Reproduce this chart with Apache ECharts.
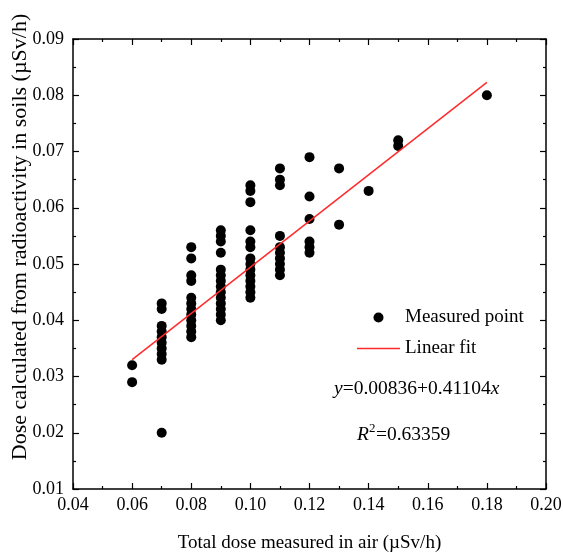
<!DOCTYPE html>
<html>
<head>
<meta charset="utf-8">
<script src="https://cdn.jsdelivr.net/npm/echarts@6/dist/echarts.min.js"></script>
<style>html,body{margin:0;padding:0;background:#fff}#c{width:563px;height:559px}</style>
</head>
<body>
<div id="c"></div>
<script>
// Measured points: total dose in air (x) and dose from soil radioactivity (y), µSv/h
const airDose = [
  0.06, 0.06,
  0.07, 0.07, 0.07, 0.07, 0.07, 0.07, 0.07, 0.07, 0.07, 0.07,
  0.08, 0.08, 0.08, 0.08, 0.08, 0.08, 0.08, 0.08, 0.08, 0.08, 0.08, 0.08,
  0.09, 0.09, 0.09, 0.09, 0.09, 0.09, 0.09, 0.09, 0.09, 0.09, 0.09, 0.09, 0.09, 0.09,
  0.10, 0.10, 0.10, 0.10, 0.10, 0.10, 0.10, 0.10, 0.10, 0.10, 0.10, 0.10, 0.10, 0.10,
  0.11, 0.11, 0.11, 0.11, 0.11, 0.11, 0.11, 0.11, 0.11, 0.11,
  0.12, 0.12, 0.12, 0.12, 0.12, 0.12,
  0.13, 0.13,
  0.14,
  0.15, 0.15,
  0.18
];
const soilDose = [
  0.032, 0.029,
  0.043, 0.042, 0.039, 0.038, 0.037, 0.036, 0.035, 0.034, 0.033, 0.020,
  0.053, 0.051, 0.048, 0.047, 0.044, 0.043, 0.042, 0.041, 0.040, 0.039, 0.038, 0.037,
  0.056, 0.055, 0.054, 0.052, 0.049, 0.048, 0.047, 0.046, 0.045, 0.044, 0.043, 0.042, 0.041, 0.040,
  0.064, 0.063, 0.061, 0.056, 0.054, 0.053, 0.051, 0.050, 0.049, 0.048, 0.047, 0.046, 0.045, 0.044,
  0.067, 0.065, 0.064, 0.055, 0.053, 0.052, 0.051, 0.050, 0.049, 0.048,
  0.069, 0.062, 0.058, 0.054, 0.053, 0.052,
  0.067, 0.057,
  0.063,
  0.072, 0.071,
  0.080
];
// Linear fit endpoints as drawn
const fitX = [0.06, 0.18];
const fitY = [0.0330, 0.0823];
// Axis ranges / ticks
const xMin = 0.04, xMax = 0.20, xStep = 0.02;
const yMin = 0.01, yMax = 0.09, yStep = 0.01;
const xName = 'Total dose measured in air (µSv/h)';
const yName = 'Dose calculated from radioactivity in soils (µSv/h)';
const seriesNames = ['Measured point', 'Linear fit'];

const FONT = "'Liberation Serif', 'Times New Roman', serif";
const chart = echarts.init(document.getElementById('c'));

const axisCommon = {
  axisLine: { show: true, onZero: false, lineStyle: { color: '#000', width: 1.5 } },
  axisTick: { show: true, inside: true, length: 6, lineStyle: { color: '#000', width: 1.2 } },
  minorTick: { show: true, splitNumber: 2, length: 3, lineStyle: { color: '#000', width: 1.2 } },
  splitLine: { show: false }
};

chart.setOption({
  animation: false,
  backgroundColor: '#fff',
  grid: { left: 73, right: 17, top: 39, bottom: 70, containLabel: false, outerBoundsMode: 'none' },
  xAxis: [
    Object.assign({}, axisCommon, {
      type: 'value', min: xMin, max: xMax, interval: xStep, position: 'bottom',
      axisLabel: { color: '#000', fontFamily: FONT, fontSize: 18, margin: 7,
        formatter: v => v.toFixed(2) },
      name: xName, nameLocation: 'middle', nameGap: 45, nameMoveOverlap: false,
      nameTextStyle: { color: '#000', fontFamily: FONT, fontSize: 19 }
    }),
    Object.assign({}, axisCommon, {
      type: 'value', min: xMin, max: xMax, interval: xStep, position: 'top',
      axisLabel: { show: false }
    })
  ],
  yAxis: [
    Object.assign({}, axisCommon, {
      type: 'value', min: yMin, max: yMax, interval: yStep, position: 'left',
      axisLabel: { color: '#000', fontFamily: FONT, fontSize: 18, margin: 9,
        formatter: v => v.toFixed(2) },
      name: yName, nameLocation: 'middle', nameGap: 42, nameMoveOverlap: false,
      nameTextStyle: { color: '#000', fontFamily: FONT, fontSize: 22, padding: [0, 0, 0, 54] }
    }),
    Object.assign({}, axisCommon, {
      type: 'value', min: yMin, max: yMax, interval: yStep, position: 'right',
      axisLabel: { show: false }
    })
  ],
  legend: {
    orient: 'vertical', left: 357, top: 308, padding: 0, itemGap: 12,
    itemWidth: 43, itemHeight: 10,
    textStyle: { color: '#000', fontFamily: FONT, fontSize: 19 },
    data: [
      { name: seriesNames[0], icon: 'circle' },
      { name: seriesNames[1], icon: 'path://M0,0 L43,0 L43,1.5 L0,1.5 Z' }
    ]
  },
  series: [
    {
      name: seriesNames[0], type: 'scatter', symbol: 'circle', symbolSize: 10,
      itemStyle: { color: '#000', opacity: 1 },
      data: airDose.map((x, i) => [x, soilDose[i]]),
      z: 3
    },
    {
      name: seriesNames[1], type: 'line', symbol: 'none',
      lineStyle: { color: '#ff2a2a', width: 1.5 },
      itemStyle: { color: '#ff2a2a' },
      data: fitX.map((x, i) => [x, fitY[i]]),
      z: 4
    }
  ],
  graphic: [
    {
      type: 'text', left: 334, top: 379,
      style: {
        text: '{i|y}=0.00836+0.41104{i|x}',
        font: "19.5px " + FONT, fill: '#000',
        rich: { i: { fontStyle: 'italic', fontFamily: FONT, fontSize: 19.5 } }
      }
    },
    {
      type: 'text', left: 357, top: 425,
      style: { text: 'R', font: "italic 19.5px " + FONT, fill: '#000' }
    },
    {
      type: 'text', left: 369, top: 422,
      style: { text: '2', font: "13px " + FONT, fill: '#000' }
    },
    {
      type: 'text', left: 376, top: 425,
      style: { text: '=0.63359', font: "19.5px " + FONT, fill: '#000' }
    }
  ]
});
</script>
</body>
</html>
